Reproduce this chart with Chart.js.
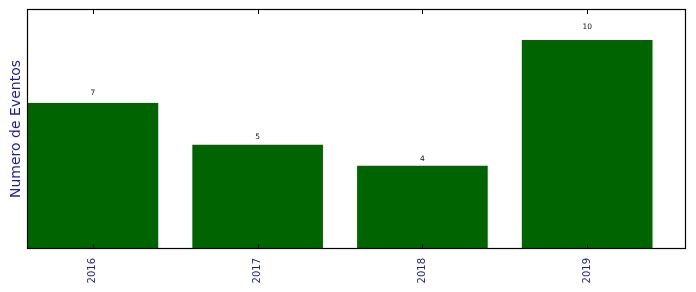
<!DOCTYPE html>
<html>
<head>
<meta charset="utf-8">
<script src="https://cdn.jsdelivr.net/npm/chart.js@4.4.1/dist/chart.umd.min.js"></script>
<style>
  html, body { margin: 0; padding: 0; background: #fff; }
  #wrap { width: 696px; height: 292px; }
</style>
</head>
<body>
<div id="wrap"><canvas id="eventsChart" width="696" height="292"></canvas></div>
<script>
const years = ["2016", "2017", "2018", "2019"];
const eventCounts = [7, 5, 4, 10];
const tickPositions = [0, 1, 2, 3];

const BAR_COLOR = "#006400";
const LABEL_COLOR = "#1c1ca0";

// frame round the plot area, inward ticks top and bottom, value labels above bars
const framePlugin = {
  id: "frame",
  afterDatasetsDraw(chart) {
    const { ctx, chartArea, scales } = chart;
    const x = scales.x;
    const y = scales.y;

    ctx.save();
    ctx.strokeStyle = "#000";
    ctx.lineWidth = 1.2;
    ctx.strokeRect(chartArea.left + 0.5, chartArea.top + 0.5,
      chartArea.right - chartArea.left - 1, chartArea.bottom - chartArea.top - 1);

    ctx.lineWidth = 1;
    tickPositions.forEach((t) => {
      const px = Math.round(x.getPixelForValue(t)) + 0.5;
      ctx.beginPath();
      ctx.moveTo(px, chartArea.top);
      ctx.lineTo(px, chartArea.top + 5);
      ctx.moveTo(px, chartArea.bottom);
      ctx.lineTo(px, chartArea.bottom - 5);
      ctx.stroke();
    });

    ctx.fillStyle = "#111";
    ctx.font = "7.5px 'DejaVu Sans'";
    ctx.textAlign = "center";
    ctx.textBaseline = "alphabetic";
    eventCounts.forEach((v, i) => {
      ctx.fillText(String(v), x.getPixelForValue(tickPositions[i]), y.getPixelForValue(v * 1.05));
    });
    ctx.restore();
  },
};

const data = {
  datasets: [
    {
      data: eventCounts.map((v, i) => ({ x: tickPositions[i], y: v })),
      backgroundColor: BAR_COLOR,
      borderColor: "#d0dcd0",
      borderWidth: 0.6,
      categoryPercentage: 0.8,
      barPercentage: 1.0,
    },
  ],
};

const config = {
  type: "bar",
  data: data,
  options: {
    responsive: false,
    animation: false,
    layout: { padding: { top: 9, right: 10, left: 0, bottom: 0 } },
    plugins: {
      legend: { display: false },
      tooltip: { enabled: false },
    },
    scales: {
      x: {
        type: "linear",
        min: -0.4,
        max: 3.6,
        offset: false,
        grid: { display: false },
        border: { display: false },
        afterBuildTicks: (scale) => {
          scale.ticks = tickPositions.map((v) => ({ value: v }));
        },
        afterFit: (scale) => {
          scale.height = 43;
        },
        ticks: {
          autoSkip: false,
          minRotation: 90,
          maxRotation: 90,
          padding: 1,
          color: LABEL_COLOR,
          font: { family: "DejaVu Sans", size: 10 },
          callback: (value) => years[value],
        },
      },
      y: {
        min: 0,
        max: 11.45,
        grid: { display: false },
        border: { display: false },
        ticks: { display: false },
        afterFit: (scale) => {
          scale.width = 27;
        },
        title: {
          display: true,
          text: "Numero de Eventos",
          color: LABEL_COLOR,
          font: { family: "DejaVu Sans", size: 14 },
          padding: { top: 7.5, bottom: 0 },
        },
      },
    },
  },
  plugins: [framePlugin],
};

const ctx = document.getElementById("eventsChart").getContext("2d");
const eventsChart = new Chart(ctx, config);
</script>
</body>
</html>
